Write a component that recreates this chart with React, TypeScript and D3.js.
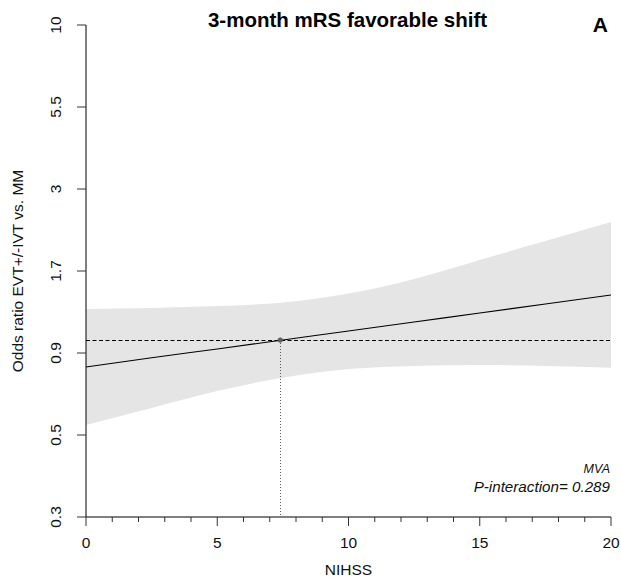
import React from "react";
import * as d3 from "d3";

// NIHSS grid for the fitted interaction curve
const nihss = [0, 2.5, 5, 7.5, 10, 12.5, 15, 17.5, 20];
// Fitted odds ratio (EVT+/-IVT vs. MM) and its 95% confidence band
const orFit = [0.825, 0.881, 0.938, 1.0, 1.066, 1.137, 1.212, 1.293, 1.378];
const orUpper = [1.247, 1.256, 1.274, 1.306, 1.393, 1.545, 1.769, 2.025, 2.319];
const orLower = [0.546, 0.616, 0.695, 0.764, 0.813, 0.831, 0.837, 0.831, 0.821];

// NIHSS where the fitted OR crosses 1
const crossNihss = 7.4;
const crossOr = 1;
const referenceOr = 1;

const xTicks = [0, 5, 10, 15, 20];
const xMinorTicks = d3.range(0, 21, 1);
const yTickLabels = ["0.3", "0.5", "0.9", "1.7", "3", "5.5", "10"];
const yDomain: [number, number] = [0.2832, 9.44];

const W = 621;
const H = 585;
const left = 86;
const right = 611;
const top = 25;
const bottom = 517;
const FONT = "'Liberation Sans', Arial, Helvetica, sans-serif";

export default function App() {
  const x = d3.scaleLinear().domain([0, 20]).range([left, right]);
  const y = d3.scaleLog().domain(yDomain).range([bottom, top]);

  // evenly spaced (log) tick positions across the domain
  const ratio = Math.pow(yDomain[1] / yDomain[0], 1 / (yTickLabels.length - 1));
  const yTicks = yTickLabels.map((lab, i) => ({ lab, v: yDomain[0] * Math.pow(ratio, i) }));

  const rows = nihss.map((n, i) => ({ n, fit: orFit[i], lo: orLower[i], hi: orUpper[i] }));

  const band = d3
    .area<(typeof rows)[number]>()
    .x((d) => x(d.n))
    .y0((d) => y(d.lo))
    .y1((d) => y(d.hi))
    .curve(d3.curveNatural)(rows)!;

  const fitLine = d3
    .line<(typeof rows)[number]>()
    .x((d) => x(d.n))
    .y((d) => y(d.fit))
    .curve(d3.curveNatural)(rows)!;

  const refY = Math.round(y(referenceOr)) + 0.5;

  return (
    <svg
      width={W}
      height={H}
      style={{ position: "absolute", left: 0, top: 0, background: "#fff" }}
      fontFamily={FONT}
    >
      <path d={band} fill="#e5e5e5" stroke="none" />
      <line
        x1={x(0)}
        x2={x(20)}
        y1={refY}
        y2={refY}
        stroke="#000"
        strokeWidth={1}
        strokeDasharray="4,2.5"
      />
      <line
        x1={Math.round(x(crossNihss)) + 0.5}
        x2={Math.round(x(crossNihss)) + 0.5}
        y1={y(crossOr)}
        y2={bottom}
        stroke="#333"
        strokeWidth={0.8}
        strokeDasharray="1,2"
      />
      <path d={fitLine} fill="none" stroke="#000" strokeWidth={1.1} />
      <circle cx={x(crossNihss)} cy={y(crossOr)} r={2.6} fill="#5e5e5e" />

      {/* y axis */}
      <line x1={left} x2={left} y1={top} y2={bottom} stroke="#000" strokeWidth={1} />
      {yTicks.map((t) => (
        <g key={t.lab}>
          <line x1={left - 9} x2={left} y1={y(t.v)} y2={y(t.v)} stroke="#333" strokeWidth={1} />
          <text
            transform={`translate(${61},${y(t.v)}) rotate(-90)`}
            textAnchor="middle"
            fontSize={15.5}
            fill="#111"
          >
            {t.lab}
          </text>
        </g>
      ))}

      {/* x axis */}
      <line x1={left} x2={right} y1={bottom} y2={bottom} stroke="#000" strokeWidth={1} />
      {xMinorTicks.map((t) => (
        <line
          key={"m" + t}
          x1={x(t)}
          x2={x(t)}
          y1={bottom}
          y2={bottom + (xTicks.includes(t) ? 9 : 5)}
          stroke="#333"
          strokeWidth={1}
        />
      ))}
      {xTicks.map((t) => (
        <text key={t} x={x(t)} y={548} textAnchor="middle" fontSize={15.5} fill="#111">
          {t}
        </text>
      ))}

      <text x={(left + right) / 2} y={575} textAnchor="middle" fontSize={15.5} fill="#111">
        NIHSS
      </text>
      <text
        transform={`translate(${23},${(top + bottom) / 2}) rotate(-90)`}
        textAnchor="middle"
        fontSize={15.5}
        fill="#111"
      >
        Odds ratio EVT+/-IVT vs. MM
      </text>

      <text x={347.5} y={27} textAnchor="middle" fontSize={20.5} fontWeight="bold" fill="#000">
        3-month mRS favorable shift
      </text>
      <text x={608} y={32} textAnchor="end" fontSize={21} fontWeight="bold" fill="#000">
        A
      </text>

      <text x={610} y={473} textAnchor="end" fontSize={12.5} fontStyle="italic" fill="#111">
        MVA
      </text>
      <text x={610} y={492} textAnchor="end" fontSize={15.2} fontStyle="italic" fill="#111">
        P-interaction= 0.289
      </text>
    </svg>
  );
}
